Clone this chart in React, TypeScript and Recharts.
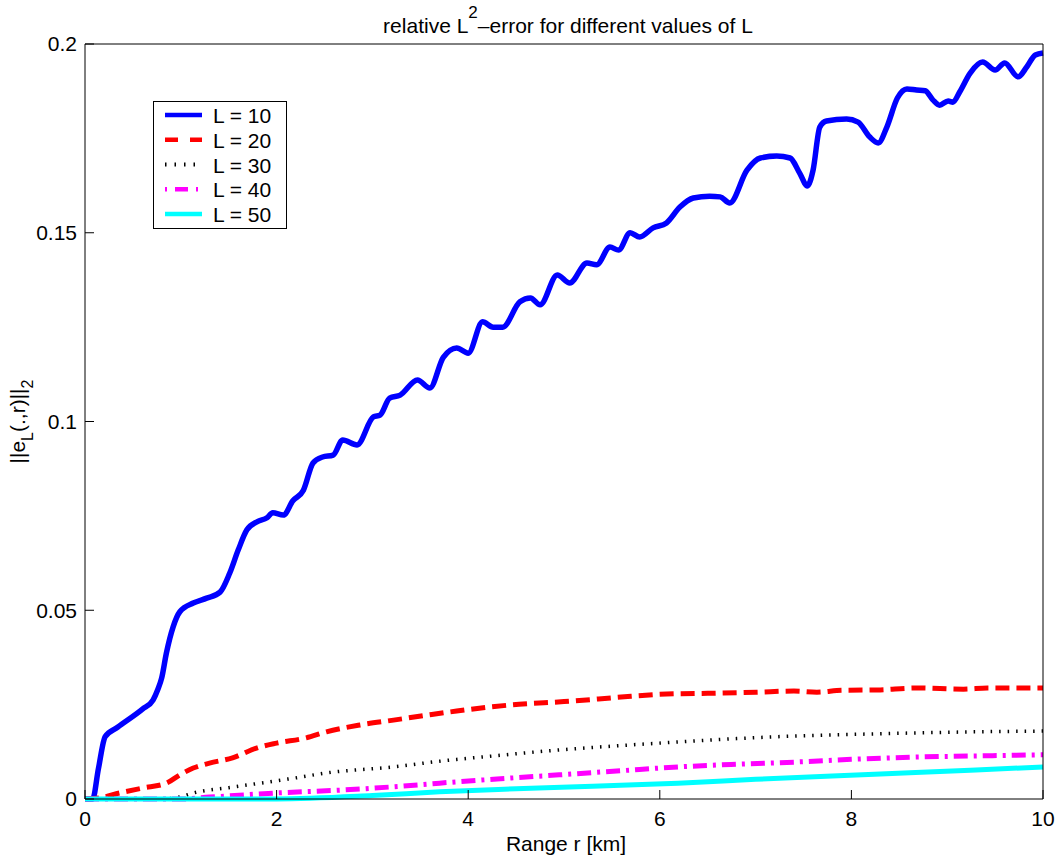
import { LineChart, Line, XAxis, YAxis, Legend, Label } from 'recharts';

const FONT = '"Liberation Sans", Arial, Helvetica, sans-serif';

// values: range r [km] and relative error per L
const rangeL10 = [
  0, 0.08, 0.14, 0.21, 0.34, 0.6, 0.71, 0.76, 0.8, 0.85, 0.92, 0.99, 1.13, 1.27, 1.41, 1.51, 1.6,
  1.69, 1.8, 1.9, 1.96, 2.07, 2.17, 2.28, 2.38, 2.48, 2.59, 2.69, 2.84, 3.01, 3.08, 3.18, 3.29,
  3.47, 3.6, 3.74, 3.88, 4.0, 4.15, 4.26, 4.36, 4.54, 4.65, 4.75, 4.93, 5.06, 5.24, 5.34, 5.48,
  5.57, 5.69, 5.79, 5.93, 6.07, 6.21, 6.35, 6.52, 6.63, 6.73, 6.91, 7.05, 7.22, 7.36, 7.46, 7.54,
  7.6, 7.67, 7.74, 7.95, 8.07, 8.19, 8.28, 8.37, 8.48, 8.58, 8.68, 8.77, 8.85, 8.92, 9.01, 9.06,
  9.13, 9.24, 9.37, 9.5, 9.6, 9.74, 9.83, 9.92, 10,
];
const errL10 = [
  0, 0, 0.008, 0.0165, 0.019, 0.0238, 0.0262, 0.029, 0.032, 0.0387, 0.0456, 0.0496, 0.0519, 0.0532,
  0.0548, 0.0598, 0.066, 0.0713, 0.0735, 0.0745, 0.0758, 0.0752, 0.079, 0.0818, 0.089, 0.0906,
  0.0911, 0.0951, 0.0938, 0.1012, 0.1017, 0.1062, 0.107, 0.111, 0.1089, 0.117, 0.1195, 0.1181,
  0.1264, 0.125, 0.125, 0.1317, 0.1327, 0.1309, 0.1388, 0.1367, 0.142, 0.1415, 0.1462, 0.1454,
  0.15, 0.1489, 0.1513, 0.1526, 0.1568, 0.1592, 0.1597, 0.1595, 0.1579, 0.1666, 0.1698, 0.1703,
  0.1698, 0.1658, 0.1624, 0.1666, 0.178, 0.1796, 0.1801, 0.1793, 0.1754, 0.1738, 0.178, 0.1857,
  0.1881, 0.1878, 0.1876, 0.1852, 0.1838, 0.1849, 0.1846, 0.1873, 0.1923, 0.1952, 0.1931, 0.195,
  0.1913, 0.1939, 0.1971, 0.1976,
];

const rangeL20 = [
  0, 0.15, 0.36, 0.6, 0.85, 0.99, 1.13, 1.3, 1.54, 1.79, 2.0, 2.31, 2.52, 2.87, 3.22, 3.57, 3.88,
  4.2, 4.53, 5.0, 5.36, 5.7, 6.07, 6.5, 7.01, 7.4, 7.64, 7.9, 8.27, 8.68, 9.17, 9.42, 10,
];
const errL20 = [
  0, 0.0003, 0.0016, 0.0029, 0.0042, 0.0064, 0.0082, 0.0095, 0.0109, 0.0135, 0.0148, 0.0162,
  0.0178, 0.0196, 0.0209, 0.0222, 0.0233, 0.0243, 0.0251, 0.0258, 0.0265, 0.0272, 0.0278, 0.028,
  0.0283, 0.0286, 0.0283, 0.0288, 0.0289, 0.0294, 0.0291, 0.0294, 0.0294,
];

const rangeL30 = [0, 0.8, 1.0, 1.13, 1.5, 1.83, 2.2, 2.52, 3.22, 3.7, 4.3, 4.95, 5.5, 6.19, 6.8, 7.43, 8.0, 8.67, 9.3, 10];
const errL30 = [
  0, 0, 0.0006, 0.0016, 0.003, 0.0042, 0.0056, 0.0069, 0.0085, 0.01, 0.0115, 0.013, 0.014, 0.0151,
  0.016, 0.0167, 0.0171, 0.0175, 0.0178, 0.018,
];

const rangeL40 = [0, 1.0, 1.3, 2.0, 2.7, 3.2, 3.7, 4.3, 4.95, 5.6, 6.19, 6.8, 7.43, 8.0, 8.67, 9.3, 10];
const errL40 = [
  0, 0, 0.0005, 0.0016, 0.0024, 0.0032, 0.0042, 0.0053, 0.0064, 0.0075, 0.0085, 0.0092, 0.0098,
  0.0105, 0.0111, 0.0114, 0.0117,
];

const rangeL50 = [0, 2.0, 3.0, 3.7, 4.5, 5.3, 6.19, 7.0, 7.8, 8.67, 9.3, 10];
const errL50 = [0, 0, 0.0009, 0.0019, 0.0027, 0.0034, 0.0042, 0.0052, 0.0061, 0.007, 0.0077, 0.0085];

const seriesNames = ['L = 10', 'L = 20', 'L = 30', 'L = 40', 'L = 50'];
const xTicks = [0, 2, 4, 6, 8, 10];
const yTicks = [0, 0.05, 0.1, 0.15, 0.2];

const toPoints = (xs: number[], ys: number[]) => xs.map((x, i) => ({ x, y: ys[i] }));

const series = [
  { name: seriesNames[0], data: toPoints(rangeL10, errL10), color: '#0000ff', width: 5.5, dash: undefined, legendWidth: 4.5, legendDash: undefined },
  { name: seriesNames[1], data: toPoints(rangeL20, errL20), color: '#ff0000', width: 5, dash: '14 7', legendWidth: 4.5, legendDash: '13 12' },
  { name: seriesNames[2], data: toPoints(rangeL30, errL30), color: '#000000', width: 3.5, dash: '1.5 7', legendWidth: 4, legendDash: '1.5 8' },
  { name: seriesNames[3], data: toPoints(rangeL40, errL40), color: '#ff00ff', width: 5, dash: '14 6 3 6', legendWidth: 4.5, legendDash: '2 8 13 8' },
  { name: seriesNames[4], data: toPoints(rangeL50, errL50), color: '#00ffff', width: 5, dash: undefined, legendWidth: 4.5, legendDash: undefined },
];

const TitleLabel = (props: any) => {
  const vb = props.viewBox || { x: 85, width: 958 };
  return (
    <text x={vb.x + vb.width / 2 + 4} y={33} textAnchor="middle" fontSize={21} fontFamily={FONT} fill="#000">
      relative L<tspan fontSize={17} dy={-15}>2</tspan>
      <tspan dy={15}>–error for different values of L</tspan>
    </text>
  );
};

const XLabel = (props: any) => {
  const vb = props.viewBox || { x: 85, width: 958 };
  return (
    <text x={vb.x + vb.width / 2 + 2} y={851} textAnchor="middle" fontSize={21} fontFamily={FONT} fill="#000">
      Range r [km]
    </text>
  );
};

const YLabel = (props: any) => {
  const vb = props.viewBox || { y: 44, height: 755 };
  const cy = vb.y + vb.height / 2;
  return (
    <text transform={`translate(25, ${cy}) rotate(-90)`} textAnchor="middle" fontSize={21} fontFamily={FONT} fill="#000">
      ||e<tspan fontSize={16} dy={8}>L</tspan>
      <tspan dy={-8}>(.,r)||</tspan>
      <tspan fontSize={16} dy={8}>2</tspan>
    </text>
  );
};

const LegendBox = (props: any) => {
  const payload = props.payload || [];
  return (
    <svg width={134} height={128} style={{ display: 'block' }}>
      <rect x={0.5} y={0.5} width={133} height={127} fill="#fff" stroke="#000" strokeWidth={1} />
      {series.map((s, i) => {
        const cy = 14 + i * 24.75;
        const entry = payload.find((p: any) => p.value === s.name);
        return (
          <g key={s.name}>
            <line x1={12} x2={49} y1={cy} y2={cy} stroke={entry?.color || s.color} strokeWidth={s.legendWidth} strokeDasharray={s.legendDash} />
            <text x={60} y={cy + 8} fontSize={21} fontFamily={FONT} fill="#000">
              {s.name}
            </text>
          </g>
        );
      })}
    </svg>
  );
};

const tickStyle = { fill: '#000', fontSize: 21, fontFamily: FONT };

export default function App() {
  return (
    <div style={{ position: 'absolute', left: 0, top: 0, width: 1059, height: 859, background: '#fff' }}>
      <LineChart width={1059} height={859} margin={{ top: 0, right: 0, bottom: 0, left: 0 }}>
        <XAxis
          dataKey="x"
          type="number"
          domain={[0, 10]}
          ticks={xTicks}
          height={60}
          tickSize={-9}
          tickMargin={21}
          tick={tickStyle}
          stroke="#000"
          axisLine={{ stroke: '#000' }}
          tickLine={{ stroke: '#000' }}
        >
          <Label content={XLabel} />
        </XAxis>
        <XAxis
          xAxisId="top"
          orientation="top"
          dataKey="x"
          type="number"
          domain={[0, 10]}
          ticks={xTicks}
          height={44}
          tickSize={-9}
          tick={false}
          stroke="#000"
        >
          <Label content={TitleLabel} />
        </XAxis>
        <YAxis
          type="number"
          domain={[0, 0.2]}
          ticks={yTicks}
          width={85}
          tickSize={-9}
          tickMargin={17}
          tick={tickStyle}
          stroke="#000"
        >
          <Label content={YLabel} />
        </YAxis>
        <YAxis
          yAxisId="right"
          orientation="right"
          type="number"
          domain={[0, 0.2]}
          ticks={yTicks}
          width={16}
          tickSize={-9}
          tick={false}
          stroke="#000"
        />
        <Legend
          layout="vertical"
          align="center"
          verticalAlign="middle"
          wrapperStyle={{ position: 'absolute', left: 153, top: 101, width: 134, height: 128 }}
          content={LegendBox}
        />
        {series.map((s) => (
          <Line
            key={s.name}
            data={s.data}
            dataKey="y"
            name={s.name}
            type="monotone"
            stroke={s.color}
            strokeWidth={s.width}
            strokeDasharray={s.dash}
            dot={false}
            activeDot={false}
            isAnimationActive={false}
          />
        ))}
      </LineChart>
    </div>
  );
}
